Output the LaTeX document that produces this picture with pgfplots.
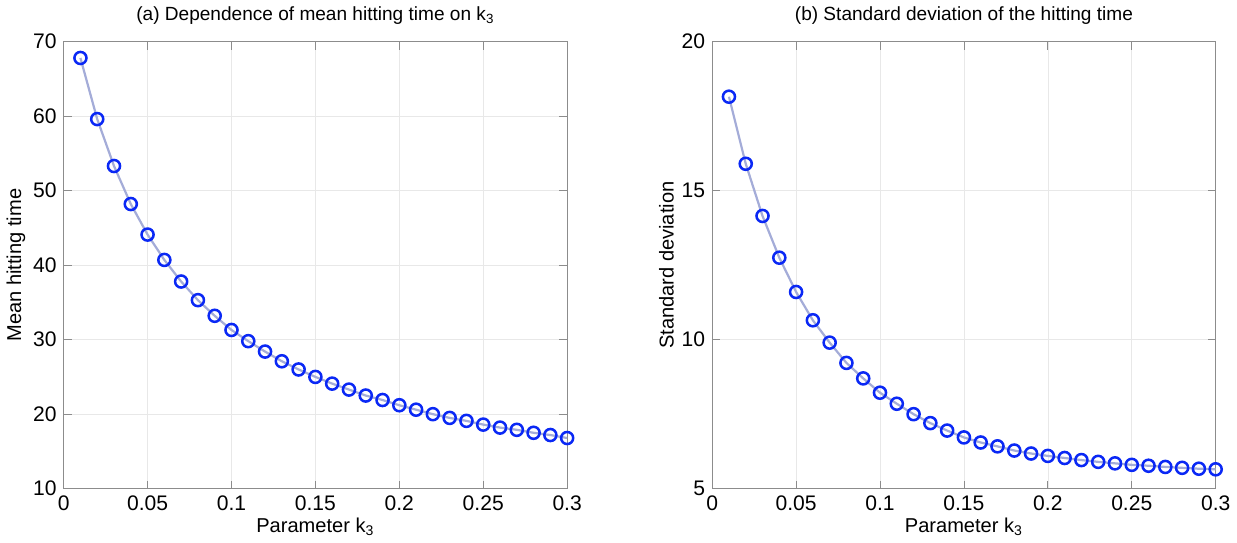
\documentclass[border=0pt]{standalone}
\usepackage{pgfplots}
\pgfplotsset{compat=1.18}
\usepackage{fontspec}
\setmainfont{Liberation Sans}
\definecolor{mk}{HTML}{0A28F5}
\definecolor{ln}{HTML}{A4ACD8}
\definecolor{bx}{HTML}{8C8C8C}
\begin{document}
\begin{tikzpicture}
\pgfplotsset{
  every axis/.append style={
    scale only axis,
    width=250bp, height=222bp,
    xmin=0, xmax=0.3,
    xtick={0,0.05,0.1,0.15,0.2,0.25,0.3},
    xticklabels={0,0.05,0.1,0.15,0.2,0.25,0.3},
    tick align=inside,
    axis line style={bx},
    tick style={bx, thin},
    major tick length=4bp,
    grid=major,
    grid style={line width=0.3pt, draw=gray!18},
    ticklabel style={font=\fontsize{10.5}{12}\selectfont},
    label style={font=\fontsize{10}{12}\selectfont},
    title style={font=\fontsize{9.5}{11}\selectfont, yshift=-1bp},
    /pgf/number format/assume math mode=true,
    xlabel style={yshift=3bp},
    ylabel style={yshift=-3bp},
  },
  dat/.style={color=ln, line width=1.1bp, mark=o,
    mark options={draw=mk, fill=white, line width=1.25bp}, mark size=3bp},
}
\begin{axis}[
  ymin=10, ymax=70, ytick={10,20,30,40,50,60,70},
  title={(a) Dependence of mean hitting time on k\textsubscript{3}},
  xlabel={Parameter k\textsubscript{3}},
  ylabel={Mean hitting time},
]
\addplot[dat] coordinates {
(0.01,67.8) (0.02,59.6) (0.03,53.3) (0.04,48.2) (0.05,44.1) (0.06,40.7)
(0.07,37.8) (0.08,35.3) (0.09,33.2) (0.10,31.3) (0.11,29.8) (0.12,28.4)
(0.13,27.1) (0.14,26.0) (0.15,25.0) (0.16,24.1) (0.17,23.3) (0.18,22.5)
(0.19,21.9) (0.20,21.2) (0.21,20.6) (0.22,20.0) (0.23,19.5) (0.24,19.1)
(0.25,18.6) (0.26,18.2) (0.27,17.9) (0.28,17.5) (0.29,17.2) (0.30,16.8)
};
\end{axis}
\begin{axis}[
  at={(322bp,0)},
  ymin=5, ymax=20, ytick={5,10,15,20},
  title={(b) Standard deviation of the hitting time},
  xlabel={Parameter k\textsubscript{3}},
  ylabel={Standard deviation},
]
\addplot[dat] coordinates {
(0.01,18.15) (0.02,15.9) (0.03,14.15) (0.04,12.75) (0.05,11.6) (0.06,10.65)
(0.07,9.9) (0.08,9.22) (0.09,8.7) (0.10,8.22) (0.11,7.85) (0.12,7.5)
(0.13,7.2) (0.14,6.95) (0.15,6.72) (0.16,6.55) (0.17,6.42) (0.18,6.28)
(0.19,6.18) (0.20,6.1) (0.21,6.03) (0.22,5.96) (0.23,5.9) (0.24,5.85)
(0.25,5.8) (0.26,5.77) (0.27,5.73) (0.28,5.7) (0.29,5.67) (0.30,5.65)
};
\end{axis}
\end{tikzpicture}
\end{document}
